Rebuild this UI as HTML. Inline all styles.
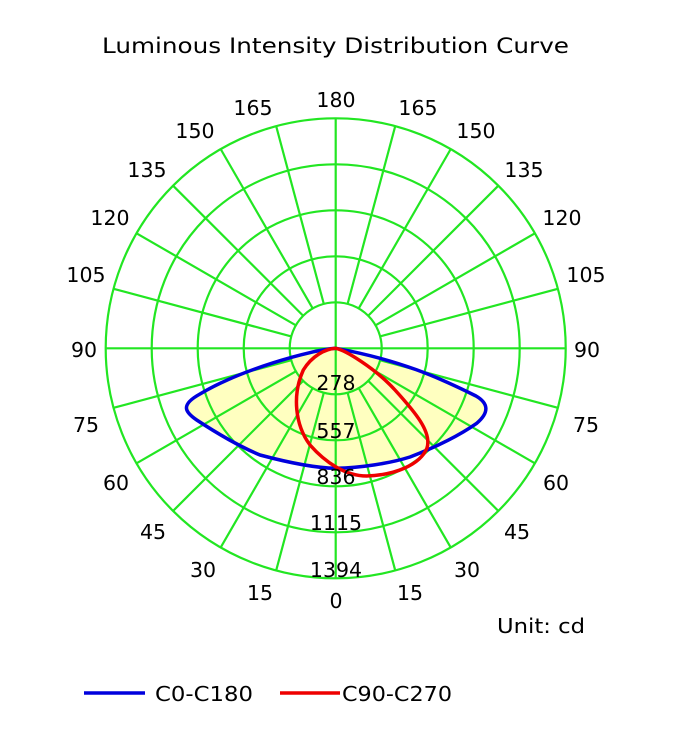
<!DOCTYPE html>
<html><head><style>
html,body{margin:0;padding:0;background:#fff;}
svg text{font-family:"DejaVu Sans","Liberation Sans",sans-serif;}
</style></head><body>
<svg id="s" width="690" height="738" xmlns="http://www.w3.org/2000/svg">
<rect width="690" height="738" fill="#fff"/>
<text x="102" y="53" font-size="21.5" textLength="467" lengthAdjust="spacingAndGlyphs">Luminous Intensity Distribution Curve</text>
<path d="M335.7,348.3 C310,350 240,370 200,394 C180,405 185,412 196.7,420 C215,432 240,446.7 260,455 C290,463 315,468 335.7,468.3 C360,468 390,463.3 410,457 C436.7,446.7 460,435 476.7,423.3 C490,412 488,403 476,396 C440,378 400,360 335.7,348.3 Z" fill="#ffffc0" stroke="none"/>
<g id="grid" stroke="#22e622" stroke-width="2.2" fill="none"></g>
<path d="M335.7,348.3 C310,350 240,370 200,394 C180,405 185,412 196.7,420 C215,432 240,446.7 260,455 C290,463 315,468 335.7,468.3 C360,468 390,463.3 410,457 C436.7,446.7 460,435 476.7,423.3 C490,412 488,403 476,396 C440,378 400,360 335.7,348.3 Z" fill="none" stroke="#0000dd" stroke-width="3.5" stroke-linejoin="round"/>
<path d="M335.7,348.3 C345,350 375,368 395,390 C415,412 432,432 427,448 C420,465 395,475 366.7,476 C345,476 325,462 310,445 C295,425 292,395 303.3,370 C312,356 325,349 335.7,348.3 Z" fill="none" stroke="#ee0000" stroke-width="3.5" stroke-linejoin="round"/>
<g id="lbl" font-size="20.5" text-anchor="middle"></g>
<g font-size="20.5" text-anchor="middle">
<text x="336" y="390">278</text>
<text x="336" y="438">557</text>
<text x="336" y="484">836</text>
<text x="336" y="530">1115</text>
<text x="336" y="577">1394</text>
</g>
<text x="497" y="633" font-size="20.5" textLength="88" lengthAdjust="spacingAndGlyphs">Unit: cd</text>
<line x1="84" y1="693" x2="145" y2="693" stroke="#0000dd" stroke-width="3.5"/>
<text x="155" y="701" font-size="20.5" textLength="98" lengthAdjust="spacingAndGlyphs">C0-C180</text>
<line x1="280" y1="693" x2="340" y2="693" stroke="#ee0000" stroke-width="3.5"/>
<text x="342" y="701" font-size="20.5" textLength="110" lengthAdjust="spacingAndGlyphs">C90-C270</text>
</svg>
<script>
var cx=335.7,cy=348.3,R=230,ns="http://www.w3.org/2000/svg";
var g=document.getElementById('grid'),L=document.getElementById('lbl');
function el(p,t,a){var e=document.createElementNS(ns,t);for(var k in a)e.setAttribute(k,a[k]);p.appendChild(e);return e;}
for(var i=1;i<=5;i++)el(g,'circle',{cx:cx,cy:cy,r:R*i/5});
for(var a=0;a<360;a+=15){var t=a*Math.PI/180;var r0=(a%90==0)?0:R/5;
el(g,'line',{x1:cx+r0*Math.sin(t),y1:cy+r0*Math.cos(t),x2:cx+R*Math.sin(t),y2:cy+R*Math.cos(t)});}
var P=[["180",336,100],["165",253,108],["150",195,131],["135",147,170],["120",110,218],["105",86,275],["90",84,350],["75",86,425],["60",116,483],["45",153,532],["30",203,570],["15",260,593],["0",336,601],
["165",418,108],["150",476,131],["135",524,170],["120",562,218],["105",586,275],["90",587,350],["75",586,425],["60",556,483],["45",517,532],["30",467,570],["15",410,593]];
P.forEach(function(p){var e=el(L,'text',{x:p[1],y:p[2]+7});e.textContent=p[0];});
</script>
</body></html>
